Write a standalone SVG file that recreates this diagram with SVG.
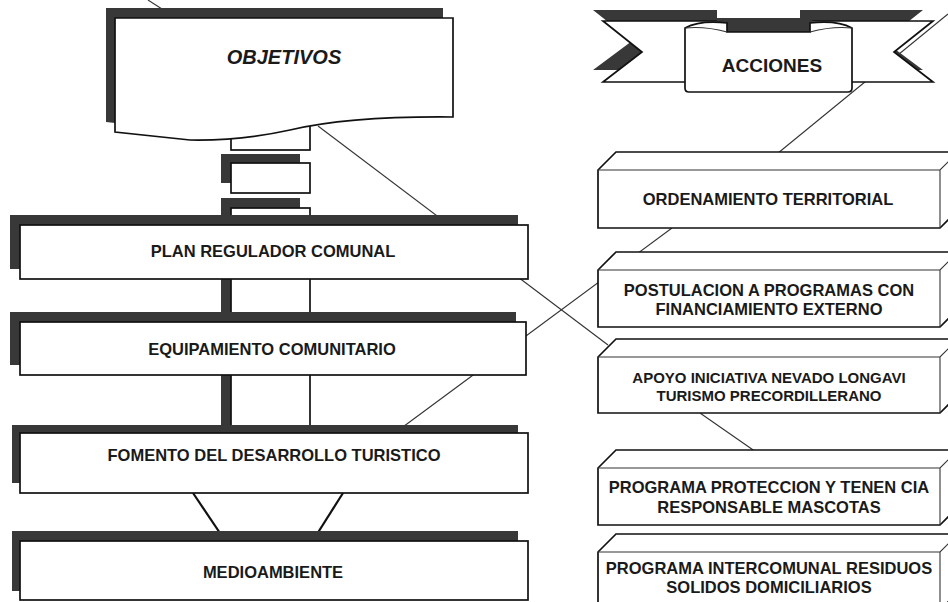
<svg xmlns="http://www.w3.org/2000/svg" width="948" height="602" viewBox="0 0 948 602">
<style>
.sh{fill:#383838;stroke:none}
.bx{fill:#fff;stroke:#111;stroke-width:1.7}
.t{font-family:"Liberation Sans",Arial,sans-serif;font-weight:bold;font-size:16.5px;fill:#1a1a1a;text-anchor:middle;dominant-baseline:central}
.ti{font-style:italic;font-size:20px}
.tb{font-size:19px}
.ts{font-size:15px}
.ln{stroke:#333;stroke-width:1.1;fill:none}
.lk{stroke:#111;stroke-width:2.2;fill:none}
</style>
<rect width="948" height="602" fill="#fff"/>
<g id="connectors">
<line class="ln" x1="148" y1="0" x2="176" y2="18"/>
<line class="ln" x1="318" y1="126" x2="608" y2="345"/>
<line class="ln" x1="672" y1="228" x2="392" y2="435"/>
<line class="ln" x1="948" y1="14" x2="772" y2="158"/>
<line class="ln" x1="700" y1="413" x2="756" y2="452"/>
<line class="lk" x1="193" y1="493" x2="226" y2="542"/>
<line class="lk" x1="343" y1="493" x2="312" y2="542"/>
</g>
<g id="pillar">
<rect x="231" y="120" width="79" height="30" class="bx"/>
<rect x="221" y="154" width="79" height="29" class="sh"/>
<rect x="231" y="163" width="79" height="30" class="bx"/>
<rect x="221" y="198" width="79" height="237" class="sh"/>
<rect x="231" y="208" width="79" height="227" class="bx"/>
</g>
<g id="objetivos">
<path class="sh" d="M106,8 L443,8 L443,107 Q340,106 280,120 Q230,131 180,130 L106,122 Z"/>
<path class="bx" d="M115,18 L453,18 L453,117 Q350,116 290,130 Q240,141 190,140 L115,132 Z"/>
<text class="t ti" x="284" y="57">OBJETIVOS</text>
</g>
<g id="plan">
<rect x="10" y="215" width="508" height="54" class="sh"/>
<rect x="20" y="225" width="508" height="54" class="bx"/>
<text class="t" x="273" y="251">PLAN REGULADOR COMUNAL</text>
</g>
<g id="equipamiento">
<rect x="10" y="312" width="506" height="53" class="sh"/>
<rect x="20" y="322" width="506" height="53" class="bx"/>
<text class="t" x="272" y="349">EQUIPAMIENTO COMUNITARIO</text>
</g>
<g id="fomento">
<rect x="12" y="425" width="506" height="58" class="sh"/>
<rect x="20" y="433" width="508" height="60" class="bx"/>
<text class="t" x="274" y="455">FOMENTO DEL DESARROLLO TURISTICO</text>
</g>
<g id="medioambiente">
<rect x="12" y="531" width="506" height="60" class="sh"/>
<rect x="20" y="541" width="508" height="59" class="bx"/>
<text class="t" x="273" y="572">MEDIOAMBIENTE</text>
</g>
<g id="acciones">
<path class="sh" d="M593,10 L717,10 L717,70 L593,70 L632,41 Z"/>
<path class="sh" d="M800,10 L923,10 L884,41 L923,70 L800,70 Z"/>
<path class="bx" d="M603,21 L725,21 L725,82 L603,82 L642,52 Z"/>
<path class="bx" d="M810,21 L933,21 L894,52 L933,82 L810,82 Z"/>
<rect x="717" y="18" width="95" height="15" class="sh"/>
<path class="bx" d="M685,28 Q700,20 727,23 L727,32 L810,32 L810,23 Q837,20 852,28 L852,88 Q852,92 848,92 L689,92 Q685,92 685,88 Z"/>
<path class="ln" d="M685,28 Q705,26 727,32 M852,28 Q832,26 810,32"/>
<text class="t tb" x="772" y="65">ACCIONES</text>
</g>
<g id="ordenamiento">
<path class="bx" d="M598,170 L616,152 L958,152 L958,210 L940,228 L598,228 Z"/>
<path class="ln" d="M598,170 L940,170 L958,152 M940,170 L940,228"/>
<text class="t" x="768" y="199">ORDENAMIENTO TERRITORIAL</text>
</g>
<g id="postulacion">
<path class="bx" d="M598,270 L616,252 L958,252 L958,309 L940,327 L598,327 Z"/>
<path class="ln" d="M598,270 L940,270 L958,252 M940,270 L940,327"/>
<text class="t" x="769" y="290">POSTULACION A PROGRAMAS CON</text>
<text class="t" x="769" y="309">FINANCIAMIENTO EXTERNO</text>
</g>
<g id="apoyo">
<path class="bx" d="M598,357 L616,339 L958,339 L958,395 L940,413 L598,413 Z"/>
<path class="ln" d="M598,357 L940,357 L958,339 M940,357 L940,413"/>
<text class="t ts" x="769" y="377">APOYO INICIATIVA NEVADO LONGAVI</text>
<text class="t ts" x="769" y="395">TURISMO PRECORDILLERANO</text>
</g>
<g id="proteccion">
<path class="bx" d="M598,468 L616,450 L958,450 L958,507 L940,525 L598,525 Z"/>
<path class="ln" d="M598,468 L940,468 L958,450 M940,468 L940,525"/>
<text class="t" x="769" y="487">PROGRAMA PROTECCION Y TENEN CIA</text>
<text class="t" x="769" y="507">RESPONSABLE MASCOTAS</text>
</g>
<g id="intercomunal">
<path class="bx" d="M598,552 L616,534 L958,534 L958,592 L940,610 L598,610 Z"/>
<path class="ln" d="M598,552 L940,552 L958,534 M940,552 L940,610"/>
<text class="t" x="769" y="568">PROGRAMA INTERCOMUNAL RESIDUOS</text>
<text class="t" x="769" y="587">SOLIDOS DOMICILIARIOS</text>
</g>
</svg>
